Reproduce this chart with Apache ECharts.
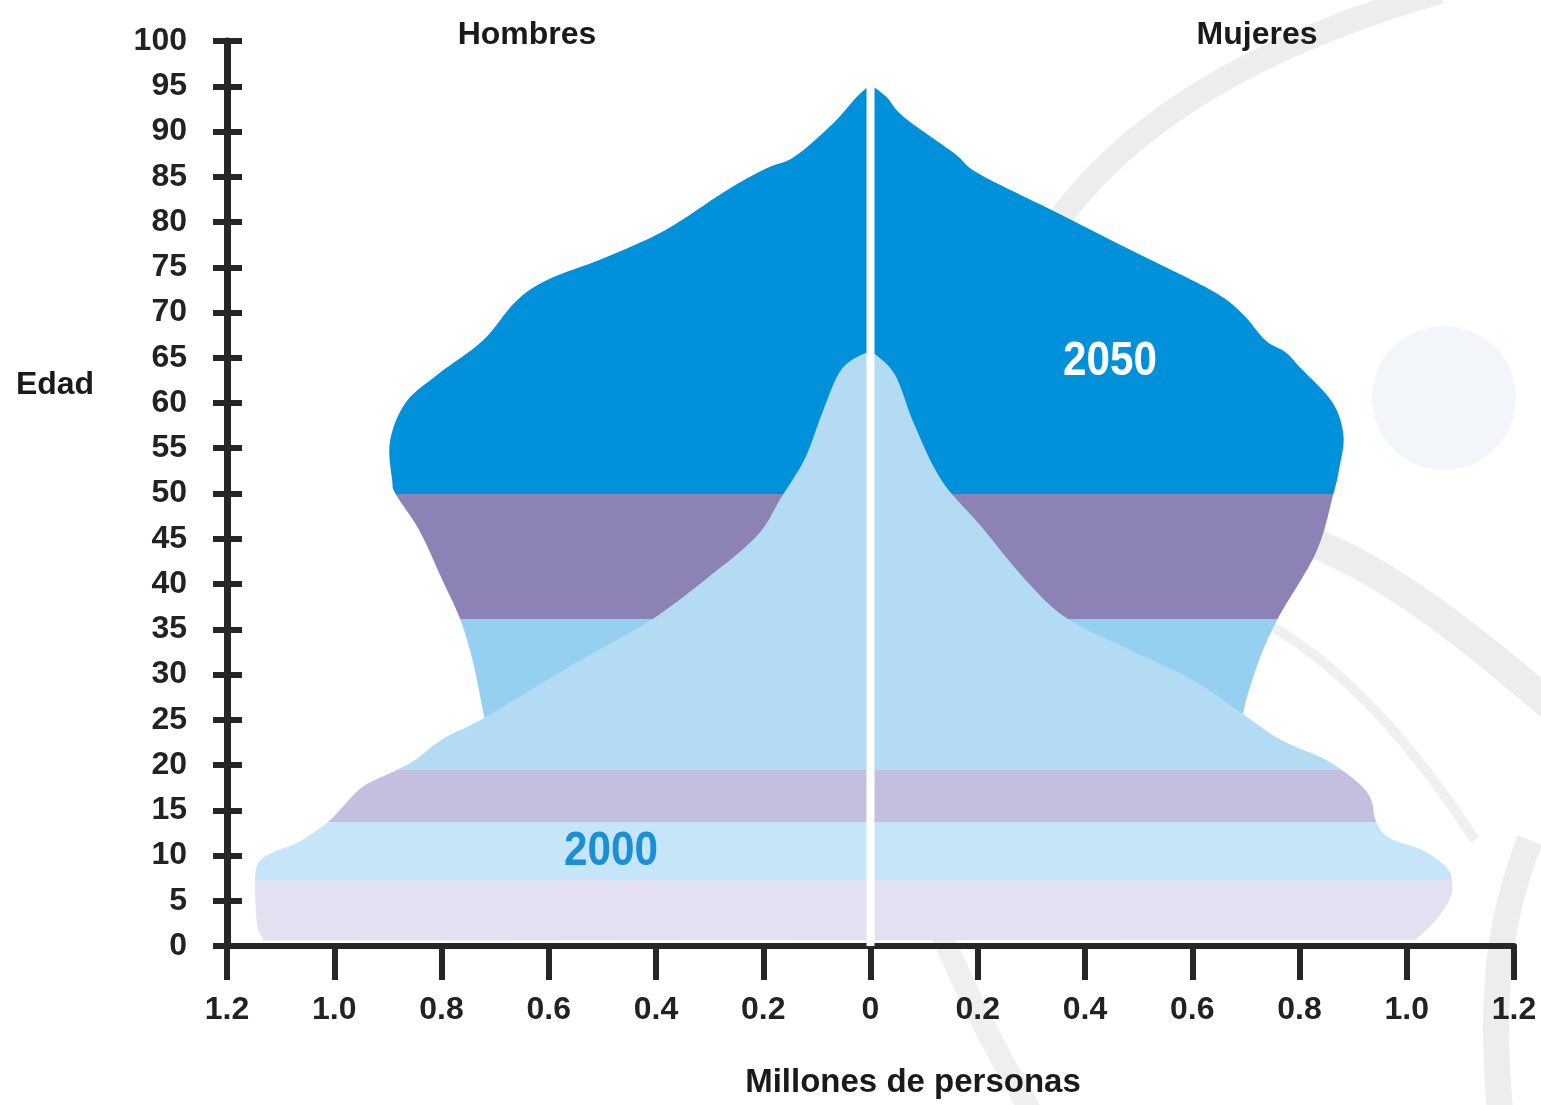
<!DOCTYPE html>
<html>
<head>
<meta charset="utf-8">
<script src="https://cdn.jsdelivr.net/npm/echarts@6/dist/echarts.min.js"></script>
<style>
html,body{margin:0;padding:0;background:#ffffff;}
#chart{width:1541px;height:1105px;}
</style>
</head>
<body>
<div id="chart"></div>
<script>
// ---------- DATA (millones de personas por edad) ----------
// 2050, Hombres (left side), ages ascending
const ages2050H = [23.0, 25.1, 31.3, 36.1, 40.4, 46.0, 49.9, 51.5, 55.8, 60.1, 63.2, 66.9, 71.2, 73.6, 76.0, 79.1, 83.4, 85.9, 87.2, 91.0, 93.8];
const hombres2050 = [0.705, 0.719, 0.741, 0.765, 0.798, 0.842, 0.885, 0.892, 0.896, 0.866, 0.806, 0.723, 0.662, 0.603, 0.498, 0.383, 0.271, 0.195, 0.142, 0.068, 0.026];
// 2050, Mujeres (right side)
const ages2050M = [23.0, 26.3, 31.3, 36.1, 43.5, 49.9, 52.7, 56.4, 60.1, 63.8, 65.6, 66.9, 69.9, 72.4, 76.7, 81.0, 85.3, 87.6, 91.6, 93.8];
const mujeres2050 = [0.690, 0.697, 0.723, 0.759, 0.831, 0.863, 0.874, 0.882, 0.861, 0.803, 0.774, 0.737, 0.693, 0.637, 0.492, 0.349, 0.203, 0.156, 0.062, 0.030];
const top2050 = 95.2;

// 2000, Hombres
const ages2000H = [0.6, 2.1, 5.0, 8.1, 9.5, 10.4, 11.4, 13.6, 15.0, 17.6, 19.4, 20.6, 22.8, 25.1, 29.4, 33.0, 36.1, 40.4, 45.3, 49.6, 53.9, 58.9, 63.8];
const hombres2000 = [1.132, 1.143, 1.147, 1.147, 1.137, 1.113, 1.069, 1.014, 0.990, 0.947, 0.885, 0.848, 0.800, 0.723, 0.603, 0.498, 0.407, 0.310, 0.212, 0.166, 0.122, 0.090, 0.053];
// 2000, Mujeres
const ages2000M = [0.7, 2.9, 5.1, 7.0, 8.7, 10.6, 12.0, 13.9, 16.1, 18.0, 20.6, 22.8, 25.7, 29.4, 32.5, 36.1, 40.4, 46.6, 51.5, 57.7, 63.2];
const mujeres2000 = [1.017, 1.055, 1.080, 1.085, 1.074, 1.029, 0.966, 0.942, 0.934, 0.910, 0.848, 0.765, 0.693, 0.601, 0.492, 0.369, 0.290, 0.203, 0.132, 0.081, 0.045];
const top2000 = 65.8;

// age bands (lower limits of coloured bands, from the top down)
const bands2050 = [50, 36.1];          // >=50 | 36.1-50 | <36.1
const bands2000 = [19.5, 13.7, 7.3];   // >=19.5 | 13.7-19.5 | 7.3-13.7 | <7.3

const dividerAges = [0, 96];

// ---------- STYLE ----------
const colors2050 = ['#0091da', '#8c82b6', '#95d0f1'];
const colors2000 = ['#b3dbf3', '#c4bfdf', '#c6e5f8', '#e3e1f1'];
const FONT = "'Liberation Sans',Arial,Helvetica,sans-serif";
const AX = '#262626';
const WM = '#ededed';

function bandStops(edges, cols) {
  const stops = [];
  let prev = 0;
  for (let i = 0; i < cols.length; i++) {
    const end = i < edges.length ? (100 - edges[i]) / 100 : 1;
    stops.push({offset: prev, color: cols[i]});
    stops.push({offset: end, color: cols[i]});
    prev = end;
  }
  return stops;
}

function crSegments(p) {
  let s = '';
  for (let i = 0; i < p.length - 1; i++) {
    const p0 = p[Math.max(i - 1, 0)], p1 = p[i], p2 = p[i + 1], p3 = p[Math.min(i + 2, p.length - 1)];
    const c1 = [p1[0] + (p2[0] - p0[0]) / 6, p1[1] + (p2[1] - p0[1]) / 6];
    const c2 = [p2[0] - (p3[0] - p1[0]) / 6, p2[1] - (p3[1] - p1[1]) / 6];
    s += ' C' + c1[0].toFixed(2) + ' ' + c1[1].toFixed(2) + ' ' + c2[0].toFixed(2) + ' ' + c2[1].toFixed(2) + ' ' + p2[0].toFixed(2) + ' ' + p2[1].toFixed(2);
  }
  return s;
}

function shapeRenderer(lAges, lVals, rAges, rVals, topAge, edges, cols) {
  return function (params, api) {
    if (params.dataIndex !== 0) return;
    const L = lAges.map((a, i) => api.coord([-lVals[i], a]));
    const top = api.coord([0, topAge]);
    const R = rAges.map((a, i) => api.coord([rVals[i], a])).reverse();
    const pl = L.concat([top]);
    const pr = [top].concat(R);
    let d = 'M' + pl[0][0].toFixed(2) + ' ' + pl[0][1].toFixed(2);
    d += crSegments(pl);
    d += crSegments(pr);
    d += ' Z';
    const y0 = api.coord([0, 0])[1];
    const y100 = api.coord([0, 100])[1];
    return {
      type: 'path',
      shape: {pathData: d},
      style: {fill: new echarts.graphic.LinearGradient(0, y100, 0, y0, bandStops(edges, cols), true)}
    };
  };
}

function label(text, x, y, size, color, sx) {
  return {
    type: 'text', z: 100, x: x, y: y, scaleX: sx || 1,
    style: {text: text, fontSize: size, fontWeight: 'bold', fontFamily: FONT, fill: color,
      textAlign: 'center', textVerticalAlign: 'middle', align: 'center', verticalAlign: 'middle'}
  };
}

const chart = echarts.init(document.getElementById('chart'), null, {renderer: 'canvas'});

const tickLabelStyle = {fontSize: 32, fontWeight: 'bold', fontFamily: FONT, color: '#222222'};

const option = {
  animation: false,
  backgroundColor: '#ffffff',
  grid: {left: 227, right: 27, top: 41, bottom: 159, containLabel: false},
  xAxis: {
    type: 'value', min: -1.2, max: 1.2, interval: 0.2,
    axisLine: {show: true, onZero: false, lineStyle: {color: AX, width: 6}},
    axisTick: {show: true, inside: false, length: 34, lineStyle: {color: AX, width: 6}},
    axisLabel: Object.assign({margin: 48, formatter: v => Math.abs(v) < 1e-9 ? '0' : Math.abs(v).toFixed(1)}, tickLabelStyle),
    splitLine: {show: false}
  },
  yAxis: [
    {
      type: 'value', min: 0, max: 100, interval: 5, position: 'left',
      axisLine: {show: true, onZero: false, lineStyle: {color: AX, width: 7}},
      axisTick: {show: true, inside: false, length: 14, lineStyle: {color: AX, width: 6}},
      axisLabel: Object.assign({margin: 40}, tickLabelStyle),
      splitLine: {show: false}
    },
    {
      type: 'value', min: 0, max: 100, interval: 5, position: 'left', offset: 0,
      axisLine: {show: false, onZero: false},
      axisTick: {show: true, inside: true, length: 15, lineStyle: {color: AX, width: 6}},
      axisLabel: {show: false},
      splitLine: {show: false}
    }
  ],
  series: [
    {
      type: 'custom', name: '2050', z: 2, clip: false,
      data: [[0, 0]], encode: {x: 0, y: 1},
      renderItem: shapeRenderer(ages2050H, hombres2050, ages2050M, mujeres2050, top2050, bands2050, colors2050)
    },
    {
      type: 'custom', name: '2000', z: 3, clip: false,
      data: [[0, 0]], encode: {x: 0, y: 1},
      renderItem: shapeRenderer(ages2000H, hombres2000, ages2000M, mujeres2000, top2000, bands2000, colors2000)
    },
    {
      type: 'line', z: 4, symbol: 'none', silent: true,
      data: dividerAges.map(a => [0, a]),
      lineStyle: {color: '#ffffff', width: 8}
    }
  ],
  graphic: [
    // faint watermark
    {type: 'circle', z: -10, shape: {cx: 1444, cy: 398, r: 72}, style: {fill: '#f2f5f9'}},
    {type: 'bezierCurve', z: -10, shape: {x1: 1440, y1: -8, cpx1: 1290, cpy1: 35, cpx2: 1140, cpy2: 105, x2: 1055, y2: 225}, style: {stroke: WM, lineWidth: 24, fill: null}},
    {type: 'bezierCurve', z: -10, shape: {x1: 1250, y1: 525, cpx1: 1350, cpy1: 540, cpx2: 1450, cpy2: 620, x2: 1550, y2: 705}, style: {stroke: WM, lineWidth: 30, fill: null}},
    {type: 'bezierCurve', z: -10, shape: {x1: 1240, y1: 610, cpx1: 1330, cpy1: 650, cpx2: 1410, cpy2: 740, x2: 1475, y2: 840}, style: {stroke: '#f0f0f0', lineWidth: 10, fill: null}},
    {type: 'bezierCurve', z: -10, shape: {x1: 1530, y1: 840, cpx1: 1498, cpy1: 920, cpx2: 1490, cpy2: 1000, x2: 1500, y2: 1110}, style: {stroke: WM, lineWidth: 26, fill: null}},
    {type: 'bezierCurve', z: -10, shape: {x1: 940, y1: 930, cpx1: 965, cpy1: 990, cpx2: 995, cpy2: 1050, x2: 1030, y2: 1110}, style: {stroke: '#efefef', lineWidth: 22, fill: null}},
    // texts
    label('Hombres', 527, 35, 32, '#1a1a1a'),
    label('Mujeres', 1257, 35, 32, '#1a1a1a'),
    label('Edad', 55, 385, 32, '#1a1a1a'),
    label('Millones de personas', 913, 1083, 33, '#1a1a1a'),
    label('2050', 1110, 362, 48, '#ffffff', 0.88),
    label('2000', 611, 852, 48, '#1a8fd5', 0.88)
  ]
};

chart.setOption(option);
</script>
</body>
</html>
